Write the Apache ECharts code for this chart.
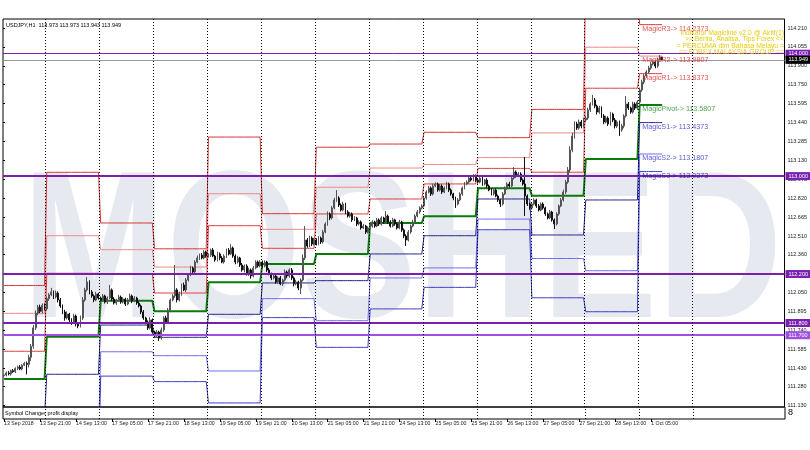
<!DOCTYPE html>
<html><head><meta charset="utf-8">
<script src="https://cdn.jsdelivr.net/npm/echarts@6/dist/echarts.min.js"></script>
<style>html,body{margin:0;padding:0;background:#fff}#c{width:810px;height:450px}</style>
</head><body><div id="c"></div>
<script>
// ---- axis labels ----
const tickLabels = ["13 Sep 2018","13 Sep 21:00","14 Sep 13:00","17 Sep 05:00","17 Sep 21:00","18 Sep 13:00","19 Sep 05:00","19 Sep 21:00","20 Sep 13:00","21 Sep 05:00","21 Sep 21:00","24 Sep 13:00","25 Sep 05:00","25 Sep 21:00","26 Sep 13:00","27 Sep 05:00","27 Sep 21:00","28 Sep 13:00","1 Oct 05:00"];
const yTicks = [114.210,114.055,113.900,113.750,113.595,113.440,113.285,113.130,112.975,112.820,112.665,112.510,112.360,112.205,112.050,111.895,111.740,111.585,111.430,111.280,111.130];
// bars per trading day: 13,14,17,18,19,20,21,24,25,26,27,28 Sep, 1 Oct
const dayBars = [19,24,24,24,24,24,24,24,24,24,24,24,11];
const daySeparators = [19,43,67,91,115,139,163,187,211,235,259,283,307];
const totalSlots = 348;

// ---- hourly closes (USDJPY H1) ----
const firstOpen = 111.368;
const closes = [
 111.375,111.392,111.384,111.410,111.402,111.428,111.440,111.425,111.455,111.470,111.462,111.520,111.610,111.760,111.880,111.930,111.895,111.945,111.915,
 111.999,112.029,112.054,112.012,112.045,111.988,111.939,111.890,111.841,111.873,111.825,111.808,111.857,111.792,111.775,111.841,111.988,112.070,112.135,112.054,112.021,111.988,112.037,112.004,
 111.988,112.021,111.971,112.004,112.070,111.996,111.963,111.988,112.012,111.971,111.996,111.955,111.988,112.021,111.980,112.004,111.963,111.939,111.890,111.841,111.808,111.759,111.825,111.726,
 111.694,111.726,111.677,111.743,111.841,111.808,111.906,111.988,112.021,112.070,111.988,112.037,112.110,112.070,112.151,112.192,112.249,112.217,112.298,112.331,112.355,112.331,112.380,112.347,
 112.355,112.396,112.347,112.315,112.364,112.331,112.298,112.347,112.396,112.364,112.413,112.347,112.298,112.331,112.274,112.233,112.266,112.200,112.233,112.184,112.249,112.298,112.266,112.298,
 112.266,112.298,112.233,112.200,112.168,112.184,112.135,112.168,112.119,112.151,112.217,112.184,112.233,112.168,112.119,112.135,112.086,112.151,112.331,112.478,112.429,112.494,112.445,112.478,
 112.445,112.494,112.462,112.543,112.609,112.691,112.658,112.740,112.805,112.821,112.764,112.723,112.772,112.707,112.674,112.691,112.642,112.658,112.609,112.625,112.576,112.592,112.543,112.576,
 112.592,112.625,112.592,112.642,112.609,112.658,112.625,112.674,112.625,112.592,112.642,112.609,112.576,112.625,112.560,112.511,112.478,112.543,112.592,112.625,112.674,112.707,112.740,112.756,
 112.821,112.870,112.903,112.854,112.919,112.935,112.886,112.919,112.870,112.903,112.935,112.886,112.854,112.821,112.772,112.805,112.854,112.903,112.935,112.951,112.984,112.968,113.001,112.968,
 112.951,112.984,112.935,112.968,112.919,112.886,112.854,112.886,112.837,112.805,112.772,112.854,112.903,112.935,112.919,112.984,113.034,113.001,113.017,112.968,112.935,112.837,112.772,112.740,
 112.772,112.805,112.756,112.723,112.772,112.740,112.691,112.658,112.707,112.642,112.609,112.691,112.756,112.805,112.870,112.951,113.050,113.213,113.328,113.426,113.393,113.442,113.409,113.458,
 113.474,113.540,113.589,113.622,113.572,113.523,113.556,113.491,113.442,113.474,113.426,113.507,113.458,113.409,113.442,113.377,113.409,113.491,113.589,113.556,113.523,113.589,113.556,113.605,
 113.703,113.769,113.818,113.851,113.883,113.916,113.932,113.899,113.949,113.973,113.949
];
// upper / lower wick beyond the body, in thousandths
const wickUp = [
 10,12,15,8,14,10,12,16,9,12,15,20,18,25,22,18,20,15,14,
 18,15,33,12,20,14,16,12,18,22,10,14,18,12,15,20,24,18,41,14,16,12,18,10,
 12,16,10,14,41,12,15,10,18,12,14,10,16,20,12,15,10,14,12,16,10,14,22,12,
 12,15,10,20,14,18,16,12,15,204,14,18,12,20,16,14,18,12,15,20,12,16,14,12,
 14,12,16,10,18,12,15,14,12,16,32,12,14,18,10,16,12,14,18,12,16,14,12,15,
 12,14,10,16,12,18,14,12,16,10,20,12,14,16,12,18,10,14,30,114,16,20,14,18,
 14,16,12,18,14,20,12,16,18,65,14,12,18,10,14,16,12,15,10,14,12,16,10,14,
 12,14,10,16,12,14,10,41,12,14,16,10,12,18,10,12,14,16,12,18,14,16,12,14,
 18,14,16,12,18,14,12,16,14,12,18,12,14,10,12,16,14,12,16,14,12,18,14,12,
 14,12,16,10,14,12,16,10,14,12,10,16,12,14,18,14,40,12,16,14,12,221,14,12,
 12,14,10,16,12,14,10,12,16,10,12,14,12,16,20,18,24,30,26,22,18,20,16,18,
 16,18,14,41,16,12,18,14,16,20,14,18,12,16,14,12,18,14,65,16,12,18,14,16,
 20,18,16,14,18,16,20,14,18,16,0
];
const wickDn = [
 8,10,12,14,9,11,13,10,12,8,82,25,30,20,18,16,14,18,12,
 14,18,10,16,12,20,15,18,22,12,16,24,14,20,18,12,16,14,12,20,15,18,10,14,
 10,14,12,16,10,18,12,15,10,14,12,16,10,12,18,10,14,12,18,15,20,16,12,14,
 14,10,24,12,16,12,14,18,12,16,20,12,14,10,16,12,10,14,12,10,16,12,10,14,
 12,16,10,14,12,18,10,14,16,12,10,14,18,12,16,14,20,12,16,22,12,10,14,12,
 14,12,16,10,18,12,15,14,10,16,12,18,14,16,20,12,18,49,12,16,14,10,16,12,
 12,10,16,12,10,14,18,12,10,14,16,12,10,18,12,14,16,10,18,12,14,10,16,12,
 10,12,14,10,16,12,14,10,16,12,10,14,12,10,16,18,49,12,14,10,12,10,14,12,
 12,14,10,16,12,10,14,12,16,10,12,16,14,18,32,12,10,14,12,10,14,12,10,16,
 12,10,14,12,16,10,12,14,10,16,24,12,10,14,12,10,12,14,10,16,12,163,16,14,
 14,10,16,12,10,14,16,12,10,14,41,12,14,10,12,16,14,20,18,22,16,14,18,12,
 18,14,16,12,18,20,14,16,18,12,16,14,18,20,16,49,14,18,12,16,14,12,16,14,
 16,14,18,12,16,14,12,18,14,12,6
];

// ---- daily Magic pivot levels (one value per day) ----
const levelR3 = [112.106,113.031,112.617,112.406,113.319,112.693,113.236,113.262,113.358,113.314,113.545,114.630,114.2373];
const levelR2 = [111.879,112.513,112.399,112.257,112.856,112.565,112.909,113.066,113.095,113.151,113.353,114.053,113.9807];
const levelR1 = [111.569,112.206,112.200,112.045,112.595,112.410,112.691,112.813,112.936,113.063,113.032,113.718,113.8373];
const levelP  = [111.342,111.688,111.982,111.895,112.132,112.282,112.364,112.617,112.672,112.900,112.840,113.140,113.5807];
const levelS1 = [111.032,111.381,111.783,111.683,111.871,112.127,112.146,112.364,112.513,112.813,112.519,112.805,113.4373];
const levelS2 = [110.805,110.863,111.565,111.533,111.408,111.999,111.819,112.168,112.250,112.649,112.327,112.227,113.1807];
const levelS3 = [110.495,110.556,111.366,111.321,111.147,111.844,111.601,111.915,112.091,112.562,112.006,111.892,113.0373];

// ---- horizontal levels ----
const hLevels = [114.000, 113.000, 112.200, 111.800, 111.700];
const bidPrice = 113.949;

// ================= build =================
const cats = Array.from({length: totalSlots}, (_, i) => String(i));
function expand(arr){ const out=[]; dayBars.forEach((n,d)=>{ for(let k=0;k<n;k++) out.push(arr[d]); }); return out; }
const candles = closes.map((c,i)=>{
  const o = i===0 ? firstOpen : closes[i-1];
  return [o, c, +(Math.min(o,c)-wickDn[i]/1000).toFixed(3), +(Math.max(o,c)+wickUp[i]/1000).toFixed(3)];
});
const lastDayStart = dayBars.slice(0,-1).reduce((a,b)=>a+b,0);

const lvlDefs = [
  {name:'MagicR3', arr:levelR3, color:'#d83030', width:1, lab:'#e02828'},
  {name:'MagicR2', arr:levelR2, color:'#f08484', width:1, lab:'#e02828'},
  {name:'MagicR1', arr:levelR1, color:'#e03a3a', width:1, lab:'#e02828'},
  {name:'MagicPivot', arr:levelP, color:'#0b7a0b', width:2, lab:'#1f8a1f'},
  {name:'MagicS1', arr:levelS1, color:'#22228c', width:1, lab:'#3030cc'},
  {name:'MagicS2', arr:levelS2, color:'#6a6af0', width:1, lab:'#3030cc'},
  {name:'MagicS3', arr:levelS3, color:'#3a3ac8', width:1, lab:'#1c1c8a'}
];

const series = [];
lvlDefs.forEach(d=>{
  series.push({type:'line', xAxisIndex:0, yAxisIndex:0, data:expand(d.arr), showSymbol:false, symbol:'none',
    lineStyle:{color:d.color, width:d.width}, z:2, animation:false, silent:true, clip:true});
  const v = d.arr[d.arr.length-1];
  series.push({type:'scatter', xAxisIndex:0, yAxisIndex:0, data:[[lastDayStart, v]], symbolSize:1,
    itemStyle:{color:'rgba(0,0,0,0)'}, z:6, animation:false, silent:true,
    label:{show:true, position:'right', distance:2, offset:[0,4], formatter: d.name+'-> '+v.toFixed(4),
      color:d.lab, fontSize:7.2, fontFamily:'Liberation Sans'}});
});
series.push({type:'candlestick', xAxisIndex:0, yAxisIndex:0, data:candles, barWidth:1.4, z:4, animation:false, silent:true,
  itemStyle:{color:'#9a9a9a', color0:'#111', borderColor:'#555', borderColor0:'#111', borderWidth:1}});

const purple = '#7a1fb0';
const hlData = hLevels.map((v,i)=>{
  const light = (v===111.700);
  const col = light ? '#a050e0' : purple;
  return {yAxis:v, lineStyle:{color:col, width:(v===114.000?1:2), type:'solid'},
    label:{show:true, position:'end', distance:1, formatter:v.toFixed(3), color:'#fff', backgroundColor:col,
      fontSize:5.5, padding:[1,3,1,3], fontFamily:'Liberation Sans'}};
});
hlData.push({yAxis:bidPrice, lineStyle:{color:'#9a9a9a', width:1, type:'solid'},
  label:{show:true, position:'end', distance:1, formatter:bidPrice.toFixed(3), color:'#fff', backgroundColor:'#000',
    fontSize:5.5, padding:[1,3,1,3], fontFamily:'Liberation Sans'}});
series.push({type:'line', xAxisIndex:0, yAxisIndex:0, data:[], z:5, silent:true, animation:false,
  markLine:{silent:true, symbol:['none','none'], animation:false, data:hlData}});

const sepLine = {color:'#000', width:1, type:[1,2]};
series.push({type:'line', xAxisIndex:2, yAxisIndex:0, data:[], z:1, silent:true, animation:false,
  markLine:{silent:true, symbol:['none','none'], animation:false, label:{show:false}, lineStyle:sepLine,
    data:daySeparators.map(x=>({xAxis:x}))}});
series.push({type:'line', xAxisIndex:3, yAxisIndex:1, data:[], z:1, silent:true, animation:false,
  markLine:{silent:true, symbol:['none','none'], animation:false, label:{show:false}, lineStyle:sepLine,
    data:daySeparators.map(x=>({xAxis:x}))}});

const showIdx = (i)=> i%16===0 && i/16 < tickLabels.length;
const font = 'Liberation Sans';
const chart = echarts.init(document.getElementById('c'), null, {renderer:'canvas'});
chart.setOption({
  backgroundColor:'#fff',
  animation:false,
  grid:[
    {left:3, right:25, top:19, height:388, show:true, borderColor:'#000', borderWidth:1},
    {left:3, right:25, top:407, height:12, show:true, borderColor:'#000', borderWidth:1}
  ],
  xAxis:[
    {type:'category', gridIndex:0, data:cats, boundaryGap:true, axisLine:{show:false}, axisTick:{show:false}, axisLabel:{show:false}, splitLine:{show:false}},
    {type:'category', gridIndex:1, data:cats, boundaryGap:true, position:'bottom', axisLine:{show:false},
      axisTick:{show:true, interval:showIdx, alignWithLabel:true, length:3, lineStyle:{color:'#000'}},
      axisLabel:{interval:showIdx, formatter:(v,i)=>tickLabels[i/16]||'', align:'left', fontSize:5.2, color:'#222', margin:2, fontFamily:font}},
    {type:'value', gridIndex:0, min:0, max:totalSlots, show:false},
    {type:'value', gridIndex:1, min:0, max:totalSlots, show:false}
  ],
  yAxis:[
    {type:'value', gridIndex:0, position:'right', min:111.1137, max:114.2835, scale:true,
      axisLine:{show:false}, splitLine:{show:false},
      axisTick:{show:true, customValues:yTicks, length:2, lineStyle:{color:'#000'}},
      axisLabel:{customValues:yTicks, formatter:v=>v.toFixed(3), fontSize:5.5, color:'#222', margin:3, fontFamily:font}},
    {type:'value', gridIndex:1, min:0, max:1, show:false}
  ],
  graphic:[
    {type:'text', x:22, y:259, scaleX:0.825, z:0, silent:true,
      style:{text:'MOSHED', font:'bold 210px "Liberation Sans"', fill:'#e7e9f1', verticalAlign:'middle'}},
    {type:'text', x:6, y:25, z:10, silent:true,
      style:{text:'USDJPY,H1  113.973 113.973 113.943 113.949', font:'5.5px "Liberation Sans"', fill:'#000', verticalAlign:'middle'}},
    {type:'text', x:5, y:413, z:10, silent:true,
      style:{text:'Symbol Changer profit display', font:'5.5px "Liberation Sans"', fill:'#000', verticalAlign:'middle'}},
    {type:'text', x:788, y:413, z:10, silent:true,
      style:{text:'8', font:'9px "Liberation Sans"', fill:'#000', verticalAlign:'middle'}},
    {type:'text', x:784, y:33, z:10, silent:true,
      style:{text:'Indikator Magicline v2.0 @ Aktif(1)', font:'6.8px "Liberation Sans"', fill:'#e8cc10', align:'right', verticalAlign:'middle'}},
    {type:'text', x:784, y:39.5, z:10, silent:true,
      style:{text:'>> Berita, Analisa, Tips Forex <<', font:'6.8px "Liberation Sans"', fill:'#e8cc10', align:'right', verticalAlign:'middle'}},
    {type:'text', x:784, y:46, z:10, silent:true,
      style:{text:'= PERCUMA dlm Bahasa Melayu =', font:'6.8px "Liberation Sans"', fill:'#e8cc10', align:'right', verticalAlign:'middle'}},
    {type:'text', x:784, y:52.5, z:10, silent:true,
      style:{text:'== FOREX MALAYSIA GROUP ==', font:'6.8px "Liberation Sans"', fill:'#e8cc10', align:'right', verticalAlign:'middle'}}
  ],
  series: series
});
</script></body></html>
